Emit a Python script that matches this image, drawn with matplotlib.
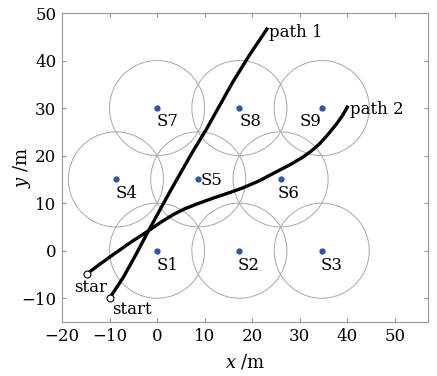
import numpy as np
import matplotlib
matplotlib.use("Agg")
import matplotlib.pyplot as plt
from matplotlib.patches import Circle

plt.rcParams['font.family'] = 'DejaVu Serif'
plt.rcParams['mathtext.fontset'] = 'dejavuserif'

# sensor nodes on a hexagonal grid
sensor_names = ['S1', 'S2', 'S3', 'S4', 'S5', 'S6', 'S7', 'S8', 'S9']
sensor_x = [0, 17.32, 34.64, -8.66, 8.66, 25.98, 0, 17.32, 34.64]
sensor_y = [0, 0, 0, 15, 15, 15, 30, 30, 30]
sensor_range = 10

# target tracks
path1_x = [-10.0, -7.1, -4.5, -1.8, 0.5, 2.7, 5.2, 7.6, 10.4, 13.2, 16.0, 19.6, 23.3]
path1_y = [-10.0, -5.6, -0.9, 4.2, 8.4, 12.4, 16.8, 21.0, 25.6, 30.6, 35.6, 41.4, 46.9]
path2_x = [-14.8, -12.0, -9.2, -5.5, -1.8, 0.8, 3.4, 5.8, 8.3, 10.5, 12.5, 15.2, 18.0,
           21.5, 25.1, 28.0, 30.7, 32.5, 34.2, 36.0, 37.7, 39.0, 40.2]
path2_y = [-4.9, -2.8, -0.8, 1.8, 4.2, 6.0, 7.6, 8.8, 9.8, 10.6, 11.3, 12.2, 13.2,
           14.7, 16.6, 18.1, 19.7, 21.0, 22.5, 24.5, 26.6, 28.4, 30.5]

fig = plt.figure(figsize=(4.37, 3.76), dpi=100)
ax = fig.add_axes([0.1419, 0.1436, 0.8375, 0.8218])

for sx, sy in zip(sensor_x, sensor_y):
    ax.add_patch(Circle((sx, sy), sensor_range, fill=False, ec='#a8a8a8', lw=0.7))

ax.plot(path1_x, path1_y, color='black', lw=2.4, solid_capstyle='butt',
        solid_joinstyle='round')
ax.plot(path2_x, path2_y, color='black', lw=2.4, solid_capstyle='butt',
        solid_joinstyle='round')
ax.plot([path1_x[0], path2_x[0]], [path1_y[0], path2_y[0]], 'o', ms=5,
        mfc='white', mec='black', mew=0.8)

ax.plot(sensor_x, sensor_y, 'o', color='#2a55b0', ms=3.5, ls='none')

# label offsets in points
offsets = {'S1': (0, -17), 'S2': (-1, -17), 'S3': (-1, -17), 'S4': (0, -16),
           'S5': (2, -7), 'S6': (-2, -16), 'S7': (0, -16), 'S8': (0, -16),
           'S9': (-16, -16)}
for name, sx, sy in zip(sensor_names, sensor_x, sensor_y):
    ax.annotate(name, (sx, sy), xytext=offsets[name], textcoords='offset points',
                fontsize=12, ha='left', va='bottom')

ax.annotate('path 1', (path1_x[-1], path1_y[-1]), xytext=(1, -7),
            textcoords='offset points', fontsize=12)
ax.annotate('path 2', (path2_x[-1], path2_y[-1]), xytext=(1, -6),
            textcoords='offset points', fontsize=12)
ax.annotate('star', (path2_x[0], path2_y[0]), xytext=(-9, -13),
            textcoords='offset points', fontsize=12)
ax.annotate('start', (path1_x[0], path1_y[0]), xytext=(2, -11),
            textcoords='offset points', fontsize=12)

ax.set_xlim(-20, 57)
ax.set_ylim(-15, 50)
ax.set_xticks(np.arange(-20, 51, 10))
ax.set_yticks(np.arange(-10, 51, 10))
ax.set_xlabel('$x$ /m', fontsize=13)
ax.set_ylabel('$y$ /m', fontsize=13)
ax.xaxis.set_label_coords(0.5, -0.10)
ax.yaxis.set_label_coords(-0.08, 0.5)
ax.tick_params(direction='in', length=3, color='#999999', labelsize=12,
               top=True, right=True, pad=4)
for s in ax.spines.values():
    s.set_color('#999999')
    s.set_linewidth(0.8)

fig.savefig('out.png', dpi=100)
